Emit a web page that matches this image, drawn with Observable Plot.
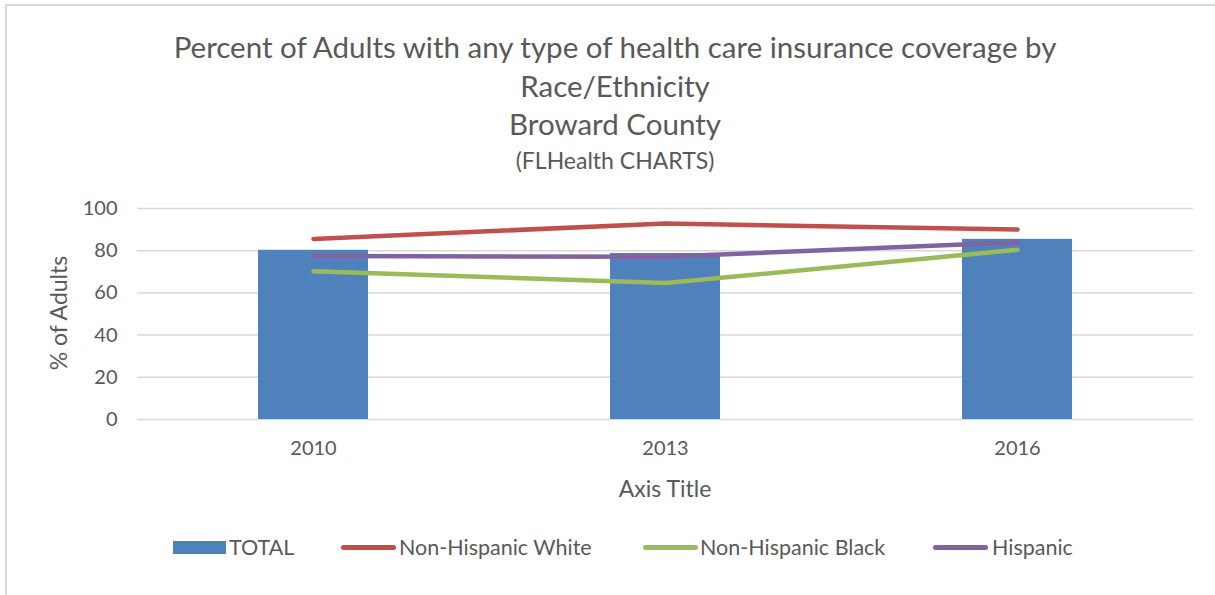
<!DOCTYPE html>
<html>
<head>
<meta charset="utf-8">
<script src="https://cdn.jsdelivr.net/npm/d3@7"></script>
<script src="https://cdn.jsdelivr.net/npm/@observablehq/plot@0.6"></script>
<style>
  html, body { margin: 0; padding: 0; background: #fff; }
  #page { position: relative; width: 1215px; height: 595px; overflow: hidden; font-family: Lato, "Open Sans", sans-serif; color: #595959; }
  #frame { position: absolute; left: 5px; top: 4px; width: 1240px; height: 620px; border-left: 2px solid #D9D9D9; border-top: 2px solid #D9D9D9; }
  .t { position: absolute; left: 15px; width: 1200px; text-align: center; white-space: nowrap; }
  #chart { position: absolute; left: 0; top: 190px; }
  #xtitle { position: absolute; left: 465px; width: 400px; top: 474px; height: 28px; line-height: 28px; text-align: center; font-size: 23px; }
  #ytitle { position: absolute; left: -142px; width: 400px; top: 299px; height: 28px; line-height: 28px; text-align: center; font-size: 23px; transform: rotate(-90deg); }
  #legend { position: absolute; top: 535px; left: 0; width: 1215px; height: 24px; font-size: 21.5px; }
  .li { position: absolute; top: 0; height: 24px; line-height: 24px; white-space: nowrap; }
  .sw { position: absolute; }
</style>
</head>
<body>
<div id="page">
  <div id="frame"></div>
  <div class="t" id="t1" style="top:28px;font-size:29.5px;line-height:38px;">Percent of Adults with any type of health care insurance coverage by</div>
  <div class="t" id="t2" style="top:67px;font-size:29.5px;line-height:38px;">Race/Ethnicity</div>
  <div class="t" id="t3" style="top:105px;font-size:29.5px;line-height:38px;">Broward County</div>
  <div class="t" id="t4" style="top:146px;font-size:23px;line-height:28px;">(FLHealth CHARTS)</div>
  <div id="chart"></div>
  <div id="xtitle">Axis Title</div>
  <div id="ytitle">% of Adults</div>
  <div id="legend"></div>
</div>
<script>
const years = ["2010", "2013", "2016"];
const total = [80.2, 78.7, 85.4];
const nhWhite = [85.6, 92.9, 90.0];
const nhBlack = [70.3, 64.7, 80.4];
const hispanic = [77.5, 77.1, 84.0];
const yTicks = [0, 20, 40, 60, 80, 100];
const seriesNames = ["TOTAL", "Non-Hispanic White", "Non-Hispanic Black", "Hispanic"];
const colors = ["#4F81BD", "#C0504D", "#9BBB59", "#8064A2"];

const barData = years.map((y, i) => ({year: y, value: total[i]}));
const lineSeries = [
  {name: seriesNames[1], color: colors[1], values: nhWhite},
  {name: seriesNames[2], color: colors[2], values: nhBlack},
  {name: seriesNames[3], color: colors[3], values: hispanic}
];

const lineMarks = lineSeries.map(s =>
  Plot.lineY(years.map((y, i) => ({year: y, value: s.values[i]})), {
    x: "year", y: "value", stroke: s.color, strokeWidth: 4.5,
    strokeLinecap: "round", strokeLinejoin: "round"
  })
);

const chart = Plot.plot({
  width: 1215,
  height: 320,
  marginLeft: 137,
  marginRight: 22,
  marginTop: 18,
  marginBottom: 91,
  style: {fontFamily: "Lato, 'Open Sans', sans-serif", fontSize: "20px", color: "#595959", background: "transparent"},
  x: {domain: years, paddingInner: 0.6875, paddingOuter: 0.34375, tickSize: 0, tickPadding: 21, label: null},
  y: {domain: [0, 100], ticks: yTicks, tickSize: 0, tickPadding: 20, label: null, tickFormat: d => String(d)},
  marks: [
    Plot.ruleY(yTicks, {stroke: "#D9D9D9", strokeWidth: 1.5}),
    Plot.barY(barData, {x: "year", y: "value", fill: colors[0]}),
    ...lineMarks
  ]
});
document.getElementById("chart").appendChild(chart);

// legend
const legendItems = [
  {name: seriesNames[0], color: colors[0], type: "rect", swX: 173, txtX: 229},
  {name: seriesNames[1], color: colors[1], type: "line", swX: 341, txtX: 399},
  {name: seriesNames[2], color: colors[2], type: "line", swX: 643, txtX: 700},
  {name: seriesNames[3], color: colors[3], type: "line", swX: 933, txtX: 992}
];
const legend = document.getElementById("legend");
legendItems.forEach(it => {
  const sw = document.createElement("div");
  sw.className = "sw";
  sw.style.left = it.swX + "px";
  sw.style.background = it.color;
  if (it.type === "rect") {
    sw.style.top = "6px"; sw.style.width = "53px"; sw.style.height = "13px";
  } else {
    sw.style.top = "10px"; sw.style.width = "55px"; sw.style.height = "5px"; sw.style.borderRadius = "3px";
  }
  legend.appendChild(sw);
  const t = document.createElement("div");
  t.className = "li";
  t.style.left = it.txtX + "px";
  t.textContent = it.name;
  legend.appendChild(t);
});
</script>
</body>
</html>
